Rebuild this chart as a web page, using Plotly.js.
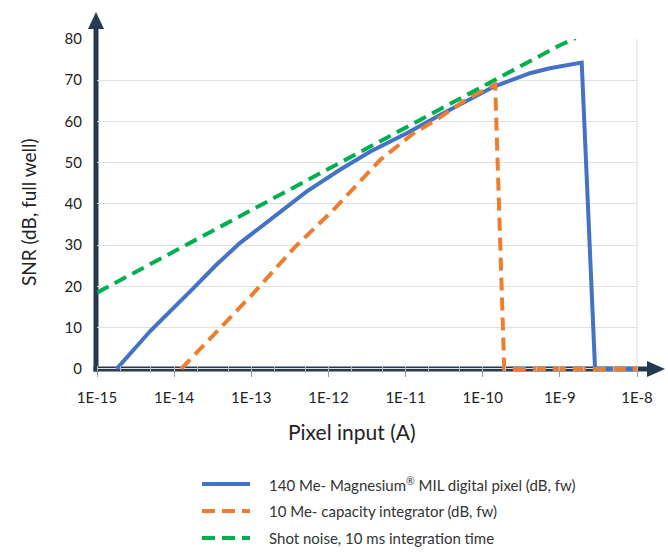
<!DOCTYPE html>
<html>
<head>
<meta charset="utf-8">
<script src="https://cdn.plot.ly/plotly-3.0.1.min.js"></script>
<style>html,body{margin:0;padding:0;background:#fff;}#chart{width:668px;height:553px;}</style>
</head>
<body>
<div id="chart"></div>
<script>
// Data
const seriesNames = [
  '140 Me- Magnesium<sup>®</sup> MIL digital pixel (dB, fw)',
  '10 Me- capacity integrator (dB, fw)',
  'Shot noise, 10 ms integration time'
];
const seriesColors = ['#4472C4', '#ED7D31', '#00B050'];
const seriesDash = ['solid', '13px,7px', '13px,7px'];
const milX = [1.8e-15, 4.9e-15, 1.78e-14, 3.5e-14, 7.1e-14, 1.93e-13, 5.2e-13, 1.41e-12, 3.5e-12, 1.02e-11, 2.8e-11, 1.38e-10, 4.1e-10, 7.4e-10, 1.92e-9, 2.86e-9, 1e-8];
const milY = [0, 9.2, 19.6, 25.2, 30.5, 36.9, 43.0, 48.3, 52.7, 57.1, 61.6, 68.4, 71.7, 72.9, 74.3, 0, 0];
const capX = [1.23e-14, 1e-13, 3.7e-13, 1.15e-12, 4.7e-12, 1.26e-11, 2.5e-11, 6.3e-11, 1.45e-10, 1.9e-10, 1e-8];
const capY = [0, 17.8, 29.6, 38.5, 50.7, 57.1, 60.4, 65.5, 69.0, 0, 0];
const shotX = [1e-15, 1e-14, 1e-13, 1e-12, 1e-11, 1e-10, 1e-9, 1.6e-9];
const shotY = [18.5, 28.5, 38.5, 48.5, 58.5, 68.5, 78.5, 80.2];
const xTickVals = [1e-15, 1e-14, 1e-13, 1e-12, 1e-11, 1e-10, 1e-9, 1e-8];
const xTickText = ['1E-15', '1E-14', '1E-13', '1E-12', '1E-11', '1E-10', '1E-9', '1E-8'];
const yTickVals = [0, 10, 20, 30, 40, 50, 60, 70, 80];

// Layout geometry (pixels)
const W = 668, H = 553;
const L = 97, R = 637, T = 39, B = 371;
const px = x => (x - L) / (R - L);
const py = y => (B - y) / (B - T);
const axisCol = '#263a4f';
const font = 'Lato, "Open Sans", sans-serif';

const xs = [milX, capX, shotX];
const ys = [milY, capY, shotY];
const traces = xs.map((x, i) => ({
  x: x, y: ys[i], name: seriesNames[i], type: 'scatter', mode: 'lines',
  showlegend: false,
  line: {color: seriesColors[i], width: 4, dash: seriesDash[i]}
}));

// Hand-placed legend (keeps the plot margins fixed)
const legendRows = [484, 511, 538];
const legendShapes = legendRows.map((yy, i) => ({
  type: 'line', xref: 'paper', yref: 'paper',
  x0: px(202), x1: px(250), y0: py(yy), y1: py(yy),
  line: {color: seriesColors[i], width: 4, dash: seriesDash[i]}
}));
const legendTexts = legendRows.map((yy, i) => ({
  text: seriesNames[i], xref: 'paper', yref: 'paper', x: px(267), y: py(yy),
  xanchor: 'left', yanchor: 'middle', showarrow: false,
  font: {size: 15, color: '#333'}
}));

const layout = {
  width: W, height: H,
  margin: {l: L, r: W - R, t: T, b: H - B, pad: 0},
  paper_bgcolor: '#fff', plot_bgcolor: '#fff',
  font: {family: font, color: '#222', size: 15},
  showlegend: false,
  xaxis: {type: 'log', range: [-15, -8], tickvals: xTickVals, ticktext: xTickText,
          showgrid: false, zeroline: false, showline: false,
          ticks: 'outside', ticklen: 5, tickcolor: '#999', tickwidth: 1,
          ticklabelstandoff: 8,
          minor: {ticks: 'inside', ticklen: 5, tickcolor: '#bbb', tickwidth: 1, showgrid: false},
          tickfont: {size: 15, color: '#222'}, fixedrange: true, automargin: false},
  yaxis: {range: [-0.5, 80], tickvals: yTickVals, showgrid: true, gridcolor: '#e0e0e0', gridwidth: 1,
          zeroline: false, showline: false, ticks: '', ticklabelstandoff: 14,
          tickfont: {size: 15, color: '#222'}, fixedrange: true, automargin: false},
  shapes: [
    {type: 'line', xref: 'paper', yref: 'paper', x0: 1, x1: 1, y0: py(369), y1: 1,
     line: {color: '#dcdcdc', width: 1}, layer: 'below'},
    {type: 'line', xref: 'paper', yref: 'paper', x0: px(96), x1: px(96), y0: py(371.5), y1: py(26),
     line: {color: axisCol, width: 5}, layer: 'below'},
    {type: 'path', xref: 'paper', yref: 'paper',
     path: `M ${px(88)} ${py(29)} L ${px(96)} ${py(12)} L ${px(104)} ${py(29)} Z`,
     fillcolor: axisCol, line: {width: 0}, layer: 'below'},
    {type: 'line', xref: 'paper', yref: 'paper', x0: px(93.5), x1: px(650), y0: py(369), y1: py(369),
     line: {color: axisCol, width: 5}, layer: 'below'},
    {type: 'path', xref: 'paper', yref: 'paper',
     path: `M ${px(647)} ${py(361)} L ${px(665)} ${py(369)} L ${px(647)} ${py(377)} Z`,
     fillcolor: axisCol, line: {width: 0}, layer: 'below'}
  ].concat(legendShapes),
  annotations: [
    {text: 'SNR (dB, full well)', xref: 'paper', yref: 'paper', x: px(28), y: py(212),
     xanchor: 'center', yanchor: 'middle', textangle: -90, showarrow: false,
     font: {size: 19, color: '#222'}},
    {text: 'Pixel input (A)', xref: 'paper', yref: 'paper', x: px(352), y: py(431),
     xanchor: 'center', yanchor: 'middle', showarrow: false,
     font: {size: 21, color: '#222'}}
  ].concat(legendTexts)
};

Plotly.newPlot('chart', traces, layout, {staticPlot: true, displayModeBar: false});
</script>
</body>
</html>
